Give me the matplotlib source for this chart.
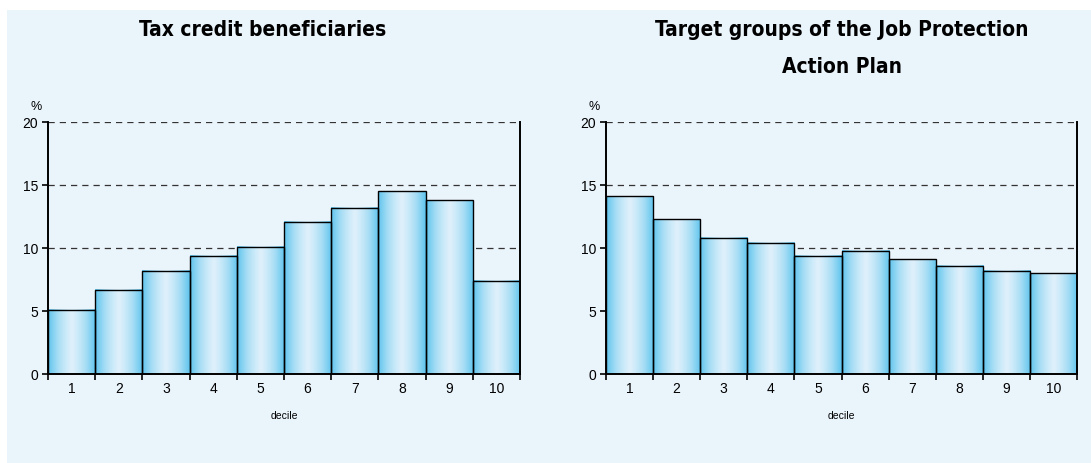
import numpy as np
import matplotlib.pyplot as plt
from matplotlib.colors import LinearSegmentedColormap
from matplotlib.patches import Rectangle

# decile shares (%)
DECILES = list(range(1, 11))
TAX_CREDIT = [5.1, 6.7, 8.2, 9.4, 10.1, 12.1, 13.2, 14.5, 13.8, 7.4]
JOB_PLAN = [14.1, 12.3, 10.8, 10.4, 9.4, 9.8, 9.1, 8.6, 8.2, 8.0]
TITLES = ["Tax credit beneficiaries", "Target groups of the Job Protection\nAction Plan"]
Y_TICKS = [0, 5, 10, 15, 20]
GRID_LEVELS = [10, 15, 20]

BG = "#EAF4FB"
BAR_CMAP = LinearSegmentedColormap.from_list(
    "bar", ["#5EC4EE", "#A6DDF5", "#DDF0FB"])

plt.rcParams["font.family"] = ["Liberation Sans", "DejaVu Sans"]


def gradient_bars(ax, xs, values):
    # horizontal shading: darker at the edges, light in the middle
    t = np.linspace(-1, 1, 200)
    prof = 1 - np.abs(t) ** 1.3
    img = prof[np.newaxis, :]
    for x, v in zip(xs, values):
        ax.imshow(img, extent=[x - 0.5, x + 0.5, 0, v], aspect="auto",
                  cmap=BAR_CMAP, vmin=0, vmax=1, zorder=2,
                  interpolation="bilinear")
        ax.add_patch(Rectangle((x - 0.5, 0), 1, v, fill=False,
                               edgecolor="black", linewidth=1.0, zorder=3))


def draw_panel(ax, values):
    ax.set_facecolor("none")
    for lvl in GRID_LEVELS:
        ax.axhline(lvl, color="#333333", linewidth=0.9, dashes=(5, 4), zorder=1)
    gradient_bars(ax, DECILES, values)

    ax.set_xlim(0.5, 10.5)
    ax.set_ylim(0, 20)
    ax.set_yticks(Y_TICKS)
    ax.set_xticks(DECILES)
    ax.set_xticklabels([str(d) for d in DECILES])
    ax.set_xticks(np.arange(0.5, 11, 1), minor=True)
    ax.tick_params(axis="x", which="major", length=0, pad=5, labelsize=10)
    ax.tick_params(axis="x", which="minor", length=4, width=1.2, direction="out")
    ax.tick_params(axis="y", length=4, width=1.2, labelsize=10, pad=3)

    ax.spines["top"].set_visible(False)
    for side in ("left", "bottom", "right"):
        ax.spines[side].set_linewidth(1.4)
        ax.spines[side].set_zorder(4)

    ax.text(-0.038, 1.04, "%", transform=ax.transAxes, fontsize=9,
            ha="left", va="bottom")
    ax.set_xlabel("decile", fontsize=7.5, labelpad=11)


fig = plt.figure(figsize=(10.91, 4.64), dpi=100)
fig.patch.set_facecolor("white")
fig.add_artist(Rectangle((7 / 1091, 0), 1, 1 - 11 / 464,
                         transform=fig.transFigure, facecolor=BG,
                         edgecolor="none", zorder=0))

ax1 = fig.add_axes([48 / 1091, 89 / 464, 472 / 1091, 252 / 464])
ax2 = fig.add_axes([606 / 1091, 89 / 464, 471 / 1091, 252 / 464])
draw_panel(ax1, TAX_CREDIT)
draw_panel(ax2, JOB_PLAN)

title_font = dict(family=["DejaVu Sans"], stretch="condensed",
                  weight="bold", fontsize=15, ha="center", va="top")
fig.text(263 / 1091, 1 - 20 / 464, TITLES[0], **title_font)
fig.text(842 / 1091, 1 - 20 / 464, TITLES[1], linespacing=2.05, **title_font)

fig.savefig("out.png", dpi=100, facecolor=fig.get_facecolor())
